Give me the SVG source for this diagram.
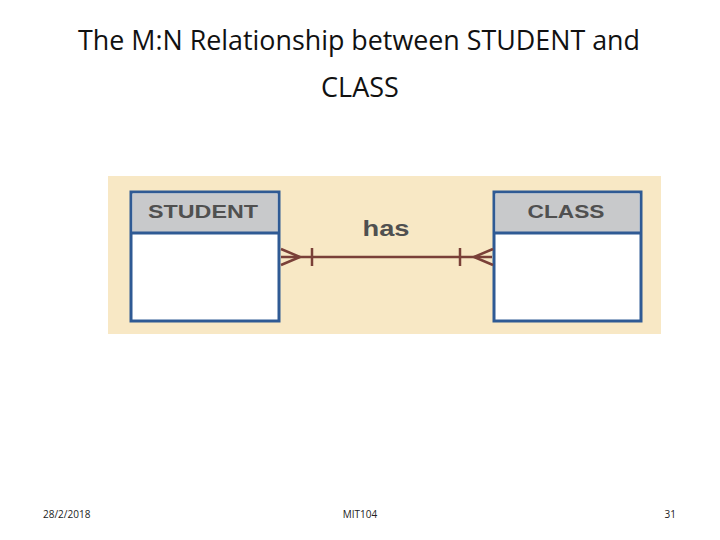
<svg xmlns="http://www.w3.org/2000/svg" width="720" height="540" viewBox="0 0 720 540">
<style>
.title{font-family:"Open Sans","Liberation Sans",sans-serif;font-size:27px;fill:#111}
.foot{font-family:"Open Sans","Liberation Sans",sans-serif;font-size:10px;fill:#222}
.ent{fill:#fff;stroke:#2f5a94;stroke-width:3}
.hdr{fill:#c8c9cb}
.etxt{font-family:"Liberation Sans",Arial,sans-serif;font-size:19px;font-weight:bold;fill:#505050;text-anchor:middle}
.rel{stroke:#7a4038;stroke-width:2.5;fill:none}
</style>
<rect width="720" height="540" fill="#fff"/>
<text class="title" x="359" y="50" text-anchor="middle" textLength="562" lengthAdjust="spacingAndGlyphs">The M:N Relationship between STUDENT and</text>
<text class="title" x="360" y="97" text-anchor="middle">CLASS</text>
<rect x="108" y="176" width="553" height="158" fill="#f8e8c5"/>
<g id="student">
<rect class="ent" x="131" y="192" width="148" height="129"/>
<rect class="hdr" x="132.5" y="193.5" width="145" height="39"/>
<line x1="131" y1="233" x2="279" y2="233" stroke="#2f5a94" stroke-width="3"/>
<text class="etxt" x="203" y="218" textLength="110" lengthAdjust="spacingAndGlyphs">STUDENT</text>
</g>
<g id="class">
<rect class="ent" x="494" y="192" width="147" height="129"/>
<rect class="hdr" x="495.5" y="193.5" width="144" height="39"/>
<line x1="494" y1="233" x2="641" y2="233" stroke="#2f5a94" stroke-width="3"/>
<text class="etxt" x="566" y="218" textLength="77" lengthAdjust="spacingAndGlyphs">CLASS</text>
</g>
<g id="connectors">
<line class="rel" x1="281" y1="257" x2="492" y2="257"/>
<path class="rel" d="M281 249 L300 257 L281 265"/>
<line class="rel" x1="312" y1="248" x2="312" y2="266"/>
<path class="rel" d="M493 249 L474 257 L493 265"/>
<line class="rel" x1="460" y1="248" x2="460" y2="266"/>
<text x="386" y="236" text-anchor="middle" font-family="Liberation Sans, Arial, sans-serif" font-size="22" font-weight="bold" fill="#505050" textLength="47" lengthAdjust="spacingAndGlyphs">has</text>
</g>
<text class="foot" x="43" y="518">28/2/2018</text>
<text class="foot" x="360" y="518" text-anchor="middle">MIT104</text>
<text class="foot" x="676" y="518" text-anchor="end">31</text>
</svg>
